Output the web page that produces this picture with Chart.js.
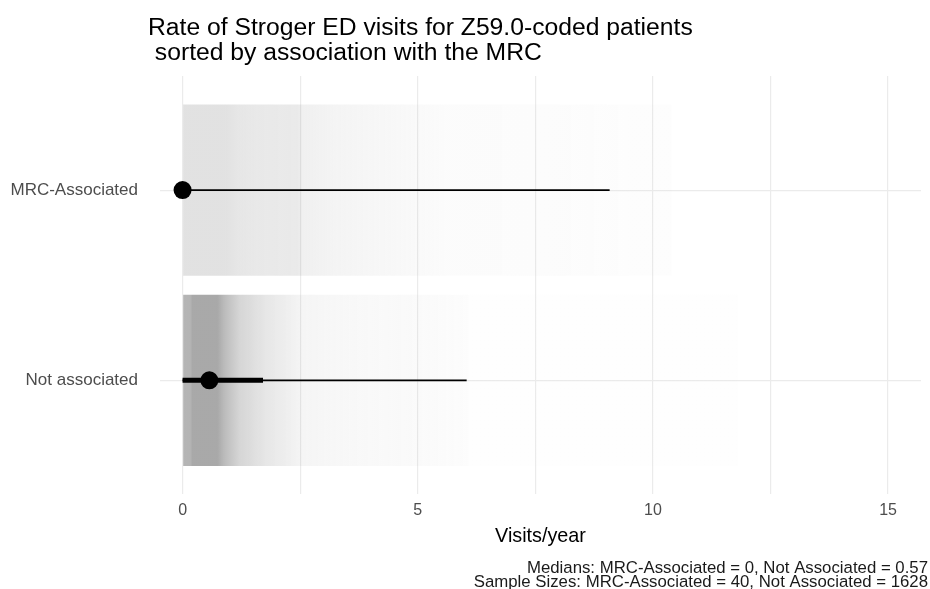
<!DOCTYPE html>
<html><head><meta charset="utf-8">
<script src="https://cdn.jsdelivr.net/npm/chart.js@4.4.0/dist/chart.umd.min.js"></script>
<style>
html,body{margin:0;padding:0;background:#fff;}
#wrap{position:relative;width:930px;height:589px;overflow:hidden;}
#title{position:absolute;left:148px;top:14px;font-family:"Liberation Sans",Arial,sans-serif;font-size:24.7px;line-height:25px;color:#000;white-space:pre;}
canvas{position:absolute;left:0;top:0;}
</style></head><body>
<div id="wrap"><canvas id="c" width="930" height="589"></canvas><div id="title"></div></div>
<script>
// ---- data ----
const titleLines = ['Rate of Stroger ED visits for Z59.0-coded patients', ' sorted by association with the MRC'];
const categories = ['MRC-Associated', 'Not associated'];
const catPos = [2, 1];
const medians = [0, 0.57];
const int66Low = [0, 0];
const int66High = [0, 1.71];
const int95Low = [0, 0];
const int95High = [9.08, 6.04];
// gradient (density shading) stops: x positions and opacity
const gradX_MRC = [0, 0.9, 1.2, 1.6, 2.45, 2.55, 3.3, 4.6, 5.6, 8, 9.5, 10.4];
const gradA_MRC = [0.33, 0.33, 0.28, 0.25, 0.24, 0.17, 0.12, 0.08, 0.04, 0.034, 0.025, 0.022];
const gradX_Not = [0, 0.18, 0.2, 0.74, 0.9, 1.2, 1.5, 1.75, 2.2, 2.55, 3.6, 5, 6.04, 6.1, 11.8];
const gradA_Not = [0.83, 0.85, 0.97, 0.97, 0.75, 0.47, 0.37, 0.28, 0.19, 0.11, 0.08, 0.056, 0.03, 0.012, 0.01];
const xTicks = [0, 2.5, 5, 7.5, 10, 12.5, 15];
const xTickLabels = ['0', '', '5', '', '10', '', '15'];
const xTitle = 'Visits/year';
const captionLines = ['Medians: MRC-Associated = 0, Not Associated = 0.57', 'Sample Sizes: MRC-Associated = 40, Not Associated = 1628'];

document.getElementById('title').textContent = titleLines.join('\n');

const gradX = [gradX_MRC, gradX_Not];
const gradA = [gradA_MRC, gradA_Not];
const FONT = '"Liberation Sans", Arial, sans-serif';

function bandColor(ctx) {
  if (ctx.type !== 'data') return 'rgba(166,166,166,0.2)';
  const chart = ctx.chart, xs = chart.scales.x;
  const i = ctx.dataIndex;
  const X = gradX[i], A = gradA[i];
  if (!xs || !chart.chartArea) return 'rgba(166,166,166,0.2)';
  const p0 = xs.getPixelForValue(X[0]), p1 = xs.getPixelForValue(X[X.length - 1]);
  const g = chart.ctx.createLinearGradient(p0, 0, p1, 0);
  const span = X[X.length - 1] - X[0];
  X.forEach((x, k) => g.addColorStop((x - X[0]) / span, 'rgba(166,166,166,' + A[k] + ')'));
  return g;
}

const datasets = [];
datasets.push({
  type: 'bar', indexAxis: 'y', order: 5,
  data: categories.map((c, i) => ({ y: catPos[i], x: [gradX[i][0], gradX[i][gradX[i].length - 1]] })),
  backgroundColor: bandColor, borderWidth: 0,
  barPercentage: 0.9, categoryPercentage: 1
});
categories.forEach((c, i) => {
  datasets.push({
    type: 'line', order: 3,
    data: [{ x: int95Low[i], y: catPos[i] }, { x: int95High[i], y: catPos[i] }],
    borderColor: '#000', borderWidth: 1.6, pointRadius: 0, fill: false
  });
  datasets.push({
    type: 'line', order: 2,
    data: [{ x: int66Low[i], y: catPos[i] }, { x: int66High[i], y: catPos[i] }],
    borderColor: '#000', borderWidth: 5, pointRadius: 0, fill: false, borderCapStyle: 'butt'
  });
});
datasets.push({
  type: 'scatter', order: 0,
  data: categories.map((c, i) => ({ x: medians[i], y: catPos[i] })),
  backgroundColor: '#000', borderWidth: 0, pointRadius: 9, pointStyle: 'circle'
});

new Chart(document.getElementById('c'), {
  type: 'bar',
  data: { datasets },
  options: {
    responsive: false, animation: false,
    layout: { padding: { top: 76, right: 2, bottom: 0, left: 0 } },
    plugins: {
      legend: { display: false }, tooltip: { enabled: false },
      title: { display: false },
      subtitle: {
        display: true, position: 'bottom', align: 'end', text: captionLines,
        color: '#1a1a1a', font: { family: FONT, size: 16.8, lineHeight: 0.82 },
        padding: { top: 9, bottom: 0 }
      }
    },
    scales: {
      x: {
        type: 'linear', min: -0.48, max: 15.7, offset: false,
        afterBuildTicks: s => { s.ticks = xTicks.map(v => ({ value: v })); },
        afterFit: s => { s.height = 58; },
        ticks: { callback: (v) => xTickLabels[xTicks.indexOf(v)], color: '#4d4d4d', font: { family: FONT, size: 16 }, padding: 7, maxRotation: 0, autoSkip: false },
        grid: { color: '#ebebeb', lineWidth: 1.2, drawTicks: false, offset: false },
        border: { display: false },
        title: { display: true, text: xTitle, color: '#000', font: { family: FONT, size: 19.8 }, padding: { top: 2, bottom: 4 } }
      },
      y: {
        type: 'linear', min: 0.4, max: 2.6, offset: false,
        afterBuildTicks: s => { s.ticks = catPos.map(v => ({ value: v })); },
        afterFit: s => { s.width = 160; },
        ticks: { callback: v => categories[catPos.indexOf(v)], color: '#4d4d4d', font: { family: FONT, size: 17 }, padding: 22, autoSkip: false },
        grid: { color: '#ebebeb', lineWidth: 1.2, drawTicks: false, offset: false },
        border: { display: false }
      }
    }
  }
});
</script>
</body></html>
